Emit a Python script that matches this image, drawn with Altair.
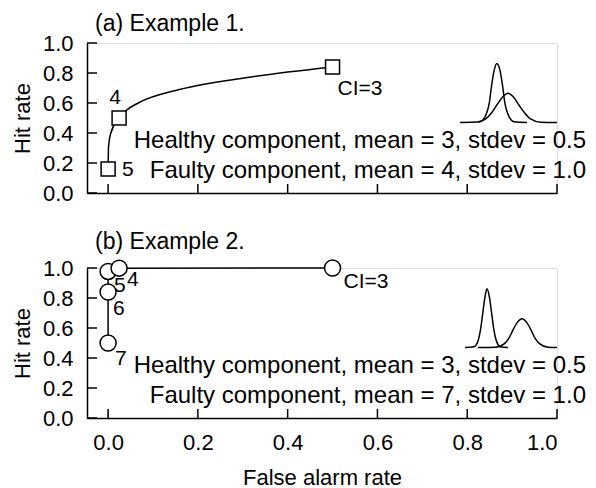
import altair as alt
import pandas as pd

# ---------------- data ----------------
# Panel (a): operating points (false alarm rate, hit rate) and labels
a_fa = [0.0, 0.0245, 0.5]
a_hit = [0.16, 0.50, 0.84]
a_lab = ["5", "4", "CI=3"]

# Panel (a): ROC curve through the points
a_curve_fa = [0.0, 0.001, 0.006, 0.0245, 0.040, 0.067, 0.159, 0.31, 0.5]
a_curve_hit = [0.16, 0.31, 0.40, 0.50, 0.55, 0.60, 0.69, 0.77, 0.84]

# Panel (b): operating points and labels (in drawing order)
b_fa = [0.0, 0.0, 0.0, 0.0245, 0.5]
b_hit = [0.50, 0.84, 0.977, 0.999, 1.0]
b_lab = ["7", "6", "5", "4", "CI=3"]

# Inset density sketches (in the panel's own coordinates)
a_healthy_x = [0.784, 0.829, 0.835, 0.842, 0.849, 0.854, 0.860, 0.866, 0.873, 0.879, 0.884, 0.891, 0.898, 0.904, 0.933]
a_healthy_y = [0.47, 0.475, 0.487, 0.523, 0.597, 0.71, 0.817, 0.863, 0.817, 0.71, 0.597, 0.523, 0.487, 0.475, 0.47]
a_faulty_x = [0.824, 0.842, 0.854, 0.866, 0.879, 0.891, 0.903, 0.915, 0.928, 0.940, 0.964, 1.0]
a_faulty_y = [0.473, 0.496, 0.533, 0.587, 0.64, 0.665, 0.64, 0.587, 0.533, 0.496, 0.472, 0.47]

b_healthy_x = [0.795, 0.815, 0.820, 0.825, 0.830, 0.835, 0.840, 0.844, 0.849, 0.854, 0.859, 0.864, 0.869, 0.873, 0.891]
b_healthy_y = [0.47, 0.475, 0.487, 0.523, 0.596, 0.708, 0.814, 0.861, 0.814, 0.708, 0.596, 0.523, 0.487, 0.475, 0.47]
b_faulty_x = [0.824, 0.864, 0.883, 0.893, 0.902, 0.912, 0.922, 0.932, 0.942, 0.951, 0.961, 0.980, 1.0]
b_faulty_y = [0.47, 0.472, 0.496, 0.532, 0.587, 0.639, 0.662, 0.639, 0.587, 0.532, 0.496, 0.472, 0.47]

a_title = "(a) Example 1."
b_title = "(b) Example 2."
a_text = ["Healthy component, mean = 3, stdev = 0.5", "Faulty component, mean = 4, stdev = 1.0"]
b_text = ["Healthy component, mean = 3, stdev = 0.5", "Faulty component, mean = 7, stdev = 1.0"]

tick_values = [0.0, 0.2, 0.4, 0.6, 0.8, 1.0]

FONT = "Liberation Sans"
W, H = 470, 150
XDOM = [-0.047, 1.0]


def xenc(show_labels):
    return alt.X(
        "x:Q",
        scale=alt.Scale(domain=XDOM, nice=False, zero=False),
        axis=alt.Axis(
            values=tick_values, format=".1f", grid=False, ticks=False,
            labels=show_labels, labelFontSize=22, labelColor="black", labelFont=FONT,
            labelPadding=14, domainColor="black", domainWidth=1.5,
            title="False alarm rate" if show_labels else None,
            titleFontSize=22, titleFontWeight="normal", titleColor="black",
            titleFont=FONT, titlePadding=14,
        ),
    )


def yenc():
    return alt.Y(
        "y:Q",
        scale=alt.Scale(domain=[0, 1], nice=False, zero=False),
        axis=alt.Axis(
            values=tick_values, format=".1f", grid=False, ticks=False,
            labelFontSize=22, labelColor="black", labelFont=FONT, labelPadding=14,
            domainColor="black", domainWidth=1.5,
            title="Hit rate", titleFontSize=22, titleFontWeight="normal",
            titleColor="black", titleFont=FONT, titlePadding=8,
        ),
    )


def panel(title, title_y, pt_x, pt_y, pt_lab, curve_x, curve_y, interp, shape, size,
          offsets, inset, text, show_x_labels):
    X = xenc(show_x_labels)
    Y = yenc()
    curve_df = pd.DataFrame({"x": curve_x, "y": curve_y, "o": list(range(len(curve_x)))})
    pts_df = pd.DataFrame({"x": pt_x, "y": pt_y, "label": pt_lab})

    inset_rows = []
    for name, xs, ys in inset:
        for i, (xx, yy) in enumerate(zip(xs, ys)):
            inset_rows.append({"x": xx, "y": yy, "series": name, "o": i})
    inset_df = pd.DataFrame(inset_rows)

    layers = []
    # inward ticks
    layers.append(
        alt.Chart(pd.DataFrame({"x": tick_values})).mark_rule(color="black", strokeWidth=1.5)
        .encode(x=X, y=alt.value(H), y2=alt.value(H - 9))
    )
    layers.append(
        alt.Chart(pd.DataFrame({"y": tick_values})).mark_rule(color="black", strokeWidth=1.5)
        .encode(y=Y, x=alt.value(0), x2=alt.value(10))
    )
    # ROC curve
    layers.append(
        alt.Chart(curve_df).mark_line(color="black", strokeWidth=1.5, interpolate=interp)
        .encode(x=X, y=Y, order="o:Q")
    )
    # inset densities
    layers.append(
        alt.Chart(inset_df).mark_line(color="black", strokeWidth=1.5, interpolate="monotone")
        .encode(x=X, y=Y, detail="series:N", order="o:Q")
    )
    # markers
    layers.append(
        alt.Chart(pts_df).mark_point(shape=shape, size=size, filled=True, fill="white",
                                     stroke="black", strokeWidth=1.5, opacity=1)
        .encode(x=X, y=Y)
    )
    # point labels
    for lab, (dx, dy, align) in offsets.items():
        layers.append(
            alt.Chart(pts_df).transform_filter(alt.datum.label == lab)
            .mark_text(fontSize=21, font=FONT, color="black", align=align,
                       baseline="alphabetic", dx=dx, dy=dy)
            .encode(x=X, y=Y, text="label:N")
        )
    # annotation text (right-aligned at the right edge of the figure)
    ann_df = pd.DataFrame({"x": [1.0646, 1.0646], "y": [0.30, 0.10], "t": text})
    layers.append(
        alt.Chart(ann_df).mark_text(fontSize=24, font=FONT, color="black",
                                    align="right", baseline="alphabetic")
        .encode(x=X, y=Y, text="t:N")
    )
    # panel title, placed just above the plot's top-left corner
    title_df = pd.DataFrame({"x": [-0.029], "y": [title_y], "t": [title]})
    layers.append(
        alt.Chart(title_df).mark_text(fontSize=23, font=FONT, color="black",
                                      align="left", baseline="alphabetic")
        .encode(x=X, y=Y, text="t:N")
    )

    return alt.layer(*layers).properties(width=W, height=H)


top = panel(
    a_title, 1.08, a_fa, a_hit, a_lab, a_curve_fa, a_curve_hit, "monotone",
    "square", 196,
    {"5": (14, 7, "left"), "4": (-4, -14, "center"), "CI=3": (5, 28, "left")},
    [("healthy", a_healthy_x, a_healthy_y), ("faulty", a_faulty_x, a_faulty_y)],
    a_text, False,
)

bottom = panel(
    b_title, 1.126, b_fa, b_hit, b_lab, b_fa, b_hit, "linear",
    "circle", 256,
    {"7": (7, 22, "left"), "6": (5, 23, "left"), "5": (6, 21, "left"),
     "4": (8, 18, "left"), "CI=3": (11, 20, "left")},
    [("healthy", b_healthy_x, b_healthy_y), ("faulty", b_faulty_x, b_faulty_y)],
    b_text, True,
)

chart = (
    alt.vconcat(top, bottom, spacing=25)
    .properties(padding={"left": 2, "top": 4, "right": 0, "bottom": 0})
    .configure_view(stroke=None)
    .configure(font=FONT)
)

chart.save("out.html", embed_options={"renderer": "svg", "actions": False})
